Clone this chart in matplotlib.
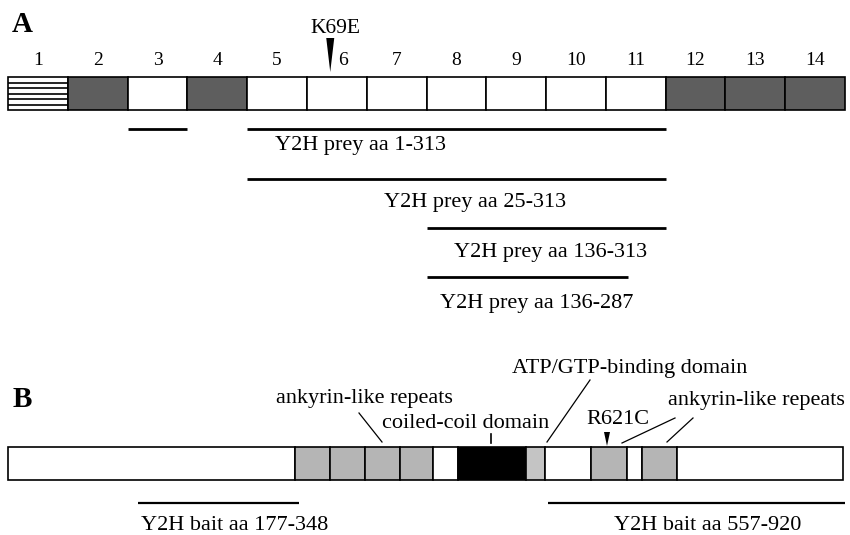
import numpy as np
import matplotlib.pyplot as plt

plt.rcParams['font.family'] = ['Liberation Serif', 'DejaVu Serif']

# ---- panel A: exons ----
exon_labels = ['1', '2', '3', '4', '5', '6', '7', '8', '9', '10', '11', '12', '13', '14']
exon_kind = ['striped', 'dark', 'white', 'dark', 'white', 'white', 'white',
             'white', 'white', 'white', 'white', 'dark', 'dark', 'dark']
# constructs in exon units (exon i spans i-0.5 .. i+0.5)
prey_labels = ['Y2H prey aa 1-313', 'Y2H prey aa 25-313',
               'Y2H prey aa 136-313', 'Y2H prey aa 136-287']
prey_start = [4.5, 4.5, 7.5, 7.5]
prey_end = [11.5, 11.5, 11.5, 10.87]
short_span = [2.5, 3.5]
mut_a_label = 'K69E'
mut_a_pos = 5.89

# ---- panel B: domains (schematic units along the protein bar) ----
dom_width = [287, 35, 35, 35, 33, 25, 68, 19, 46, 36, 15, 35, 166]
dom_kind = ['plain', 'ank', 'ank', 'ank', 'ank', 'plain', 'cc', 'atp',
            'plain', 'ank', 'plain', 'ank', 'plain']
bait_labels = ['Y2H bait aa 177-348', 'Y2H bait aa 557-920']
bait_start = [130, 540]
bait_end = [291, 837]
mut_b_label = 'R621C'
mut_b_pos = 599

kind_color = {'white': 'white', 'striped': 'white', 'dark': '#5e5e5e',
              'plain': 'white', 'ank': '#b5b5b5', 'cc': 'black', 'atp': '#c4c4c4'}

W, H = 850, 535
fig = plt.figure(figsize=(W / 100, H / 100), dpi=100)

# panel A axes: exon units on x, pixel rows on y
s = 14 / (845 - 8)
axA = fig.add_axes([0, 0, 1, 1])
axA.set_xlim(0.5 - 8 * s, 0.5 + (W - 8) * s)
axA.set_ylim(H, 0)
axA.axis('off')

xs = np.arange(1, len(exon_labels) + 1)
cols = [kind_color[k] for k in exon_kind]
axA.bar(xs, 33, width=1, bottom=77, color=cols, edgecolor='black', linewidth=1.2)
for x, k in zip(xs, exon_kind):
    if k == 'striped':
        axA.hlines(77 + 33 * np.arange(1, 6) / 6, x - 0.5, x + 0.5, color='black', lw=1.2)
for x, lab in zip(xs, exon_labels):
    # the number under the arrowhead sits a little to the right of it
    dx = 0.1 if abs(x - mut_a_pos) < 0.5 else 0
    axA.text(x + dx, 65, lab, ha='center', va='baseline', fontsize=14)

axA.text(0.5 + 4 * s, 32, 'A', ha='left', va='baseline', fontsize=21, fontweight='bold')
axA.text(mut_a_pos + 0.08, 33, mut_a_label, ha='center', va='baseline', fontsize=15.5)
hw = 4 * s
axA.fill([mut_a_pos - hw, mut_a_pos + hw, mut_a_pos], [38, 38, 72], color='black', lw=0)

axA.hlines(129, short_span[0], short_span[1], color='black', lw=2)
prey_y = [129, 179, 228, 277]
prey_text_x = [6.39, 8.31, 9.57, 9.35]
prey_text_y = [150, 207, 257, 308]
for a, b, ly, lab, tx, ty in zip(prey_start, prey_end, prey_y, prey_labels, prey_text_x, prey_text_y):
    axA.hlines(ly, a, b, color='black', lw=2)
    axA.text(tx, ty, lab, ha='center', va='baseline', fontsize=16)

# panel B axes: schematic units on x, pixel rows on y
axB = fig.add_axes([0, 0, 1, 1])
axB.set_xlim(-8, W - 8)
axB.set_ylim(H, 0)
axB.axis('off')
axB.patch.set_alpha(0)

lefts = np.concatenate([[0], np.cumsum(dom_width)[:-1]])
axB.bar(lefts, 33, width=dom_width, bottom=447, align='edge',
        color=[kind_color[k] for k in dom_kind], edgecolor='black', linewidth=1.2)

axB.text(5, 407, 'B', ha='left', va='baseline', fontsize=21, fontweight='bold')

bait_text_x = [227, 700]
for a, b, lab, tx in zip(bait_start, bait_end, bait_labels, bait_text_x):
    axB.hlines(503, a, b, color='black', lw=1.6)
    axB.text(tx, 530, lab, ha='center', va='baseline', fontsize=16)

# annotations
axB.text(268, 403, 'ankyrin-like repeats', ha='left', va='baseline', fontsize=16)
axB.plot([351, 374], [413, 442], color='black', lw=0.9)
axB.text(374, 428, 'coiled-coil domain', ha='left', va='baseline', fontsize=16)
axB.plot([483, 483], [434, 443], color='black', lw=1.2)
axB.text(504, 373, 'ATP/GTP-binding domain', ha='left', va='baseline', fontsize=16)
axB.plot([539, 582], [442, 380], color='black', lw=0.9)
axB.text(578, 424, mut_b_label, ha='left', va='baseline', fontsize=16)
axB.fill([mut_b_pos - 3, mut_b_pos + 3, mut_b_pos], [432, 432, 446], color='black', lw=0)
axB.text(660, 405, 'ankyrin-like repeats', ha='left', va='baseline', fontsize=16)
axB.plot([614, 667], [443, 418], color='black', lw=0.9)
axB.plot([659, 685], [442, 418], color='black', lw=0.9)

fig.savefig('out.png', dpi=100)
